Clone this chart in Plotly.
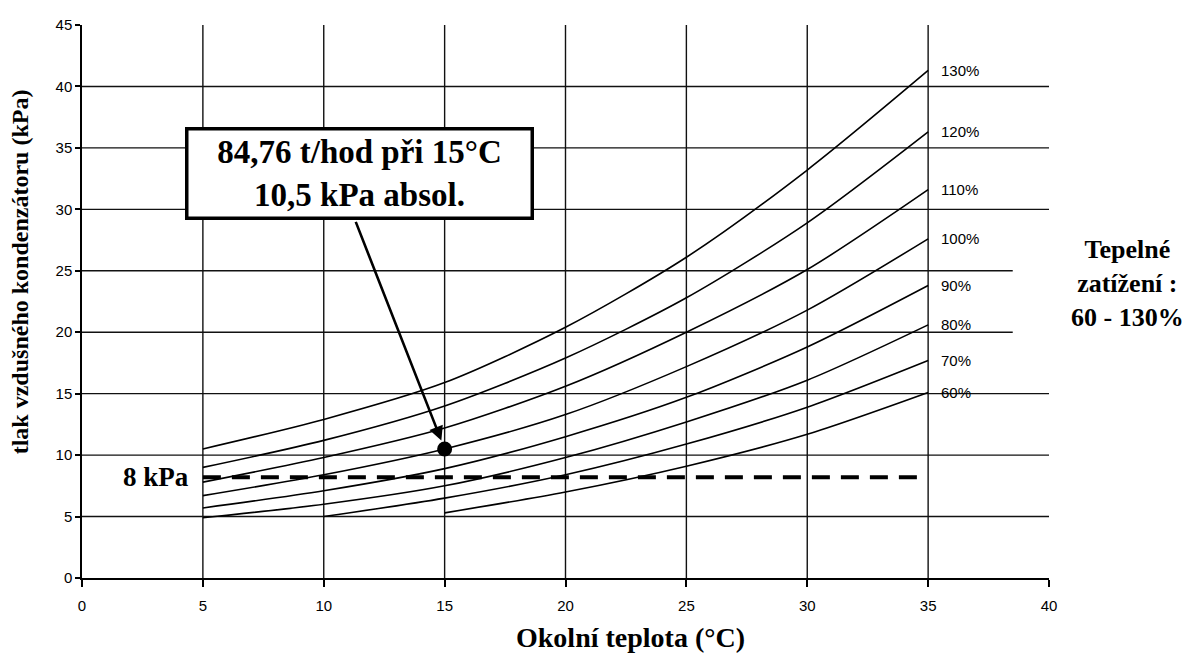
import plotly.graph_objects as go

# ambient temperature (°C) at which the curves were read
temps = [5, 10, 15, 20, 25, 30, 35]

# condenser pressure (kPa) for each heat load
load_labels = ["130%", "120%", "110%", "100%", "90%", "80%", "70%", "60%"]
p130 = [10.5, 12.9, 15.9, 20.4, 26.1, 33.2, 41.3]
p120 = [9.0, 11.2, 14.0, 17.9, 22.8, 28.9, 36.3]
p110 = [7.8, 9.8, 12.2, 15.6, 20.0, 25.1, 31.6]
p100 = [6.7, 8.4, 10.5, 13.3, 17.2, 21.8, 27.6]
p90 = [5.7, 7.1, 8.9, 11.5, 14.7, 18.8, 23.8]
p80 = [4.9, 6.0, 7.5, 9.8, 12.7, 16.1, 20.6]
p70 = [None, 5.0, 6.5, 8.4, 10.9, 13.9, 17.7]
p60 = [None, None, 5.3, 7.0, 9.1, 11.7, 15.1]
series = [p130, p120, p110, p100, p90, p80, p70, p60]

# design point and 8 kPa limit
design_t = [15]
design_p = [10.5]
limit_t = [5, 34.6]
limit_p = [8.2, 8.2]

x_ticks = [0, 5, 10, 15, 20, 25, 30, 35, 40]
y_ticks = [0, 5, 10, 15, 20, 25, 30, 35, 40, 45]
# horizontal grid lines and how far right they run
hgrid_y = [5, 10, 15, 20, 25, 30, 35, 40]
hgrid_end = [40, 40, 40, 38.5, 38.5, 40, 40, 40]
vgrid_x = [5, 10, 15, 20, 25, 30, 35]

SERIF = "Liberation Serif, Times New Roman, serif"
SANS = "Liberation Sans, Arial, sans-serif"

fig = go.Figure()

shapes = []
for y, x1 in zip(hgrid_y, hgrid_end):
    shapes.append(dict(type="line", xref="x", yref="y", x0=0, x1=x1, y0=y, y1=y,
                       line=dict(color="#111", width=1.4), layer="below"))
for x in vgrid_x:
    shapes.append(dict(type="line", xref="x", yref="y", x0=x, x1=x, y0=0, y1=45,
                       line=dict(color="#111", width=1.4), layer="below"))

for name, vals in zip(load_labels, series):
    fig.add_trace(go.Scatter(
        x=temps, y=vals, mode="lines", name=name,
        line=dict(color="black", width=1.6, shape="spline", smoothing=0.8),
        showlegend=False,
    ))

fig.add_trace(go.Scatter(
    x=limit_t, y=limit_p, mode="lines",
    line=dict(color="black", width=4, dash="18px,11px"),
    showlegend=False,
))
fig.add_trace(go.Scatter(
    x=design_t, y=design_p, mode="markers",
    marker=dict(color="black", size=15),
    showlegend=False,
))

annotations = []
for name, vals in zip(load_labels, series):
    annotations.append(dict(
        x=temps[-1], y=vals[-1], xref="x", yref="y", text=name, showarrow=False,
        xanchor="left", yanchor="middle", xshift=11,
        font=dict(family=SANS, size=15, color="black"),
    ))

annotations += [
    dict(x=limit_t[0], y=limit_p[0], xref="x", yref="y", text="<b>8 kPa</b>",
         showarrow=False, xanchor="right", yanchor="middle", xshift=-12,
         font=dict(family=SERIF, size=27, color="black")),
    # arrow from the note to the design point
    dict(x=design_t[0], y=design_p[0], xref="x", yref="y",
         ax=11.3, ay=29.1, axref="x", ayref="y", text="",
         showarrow=True, arrowhead=2, arrowsize=1.1, arrowwidth=2.6,
         arrowcolor="black", standoff=9),
    dict(x=11.46, y=32.95, xref="x", yref="y",
         text="<b>84,76 t/hod při 15°C<br>10,5 kPa absol.</b>",
         showarrow=False, xanchor="center", yanchor="middle",
         width=342, height=86, bgcolor="white",
         bordercolor="black", borderwidth=3.5, borderpad=0,
         font=dict(family=SERIF, size=33, color="black")),
    dict(x=1.081, y=0.532, xref="paper", yref="paper",
         text="<b>Tepelné<br>zatížení :<br>60 - 130%</b>",
         showarrow=False, xanchor="center", yanchor="middle",
         font=dict(family=SERIF, size=26, color="black")),
    dict(x=-0.064, y=0.553, xref="paper", yref="paper",
         text="<b>tlak vzdušného kondenzátoru (kPa)</b>",
         showarrow=False, textangle=-90, xanchor="center", yanchor="middle",
         font=dict(family=SERIF, size=24, color="black")),
    dict(x=0.567, y=-0.108, xref="paper", yref="paper",
         text="<b>Okolní teplota (°C)</b>",
         showarrow=False, xanchor="center", yanchor="middle",
         font=dict(family=SERIF, size=28, color="black")),
]

fig.update_layout(
    width=1192, height=656,
    margin=dict(l=82, r=143, t=25, b=78),
    paper_bgcolor="white", plot_bgcolor="white",
    shapes=shapes, annotations=annotations,
    showlegend=False,
)
fig.update_xaxes(
    range=[0, 40], tickvals=x_ticks, showgrid=False, zeroline=False,
    showline=True, linecolor="black", linewidth=1.5,
    ticks="outside", ticklen=7, tickwidth=1.5, tickcolor="black",
    ticklabelstandoff=6,
    tickfont=dict(family=SANS, size=15, color="black"),
)
fig.update_yaxes(
    range=[0, 45], tickvals=y_ticks, showgrid=False, zeroline=False,
    showline=True, linecolor="black", linewidth=1.5,
    ticks="outside", ticklen=5, tickwidth=1.5, tickcolor="black",
    tickfont=dict(family=SANS, size=15, color="black"),
)

# the page body has a default 8px margin; drop it so the figure sits at 0,0
fig.write_html(
    "out.html",
    config={"displayModeBar": False},
    post_script="document.body.style.margin='0';",
)
